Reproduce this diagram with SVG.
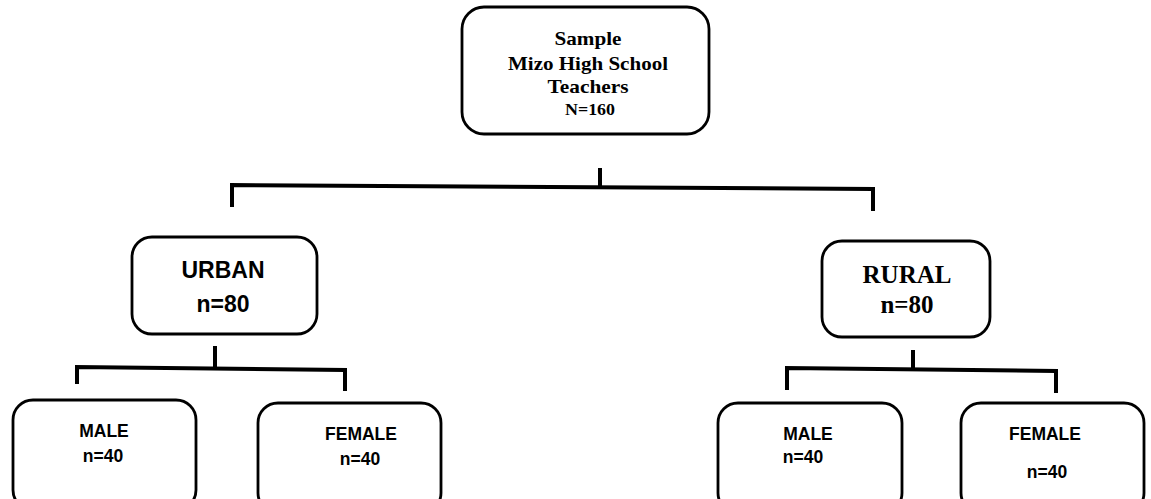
<svg xmlns="http://www.w3.org/2000/svg" width="1151" height="499" viewBox="0 0 1151 499">
<style>
.box{fill:#fff;stroke:#000;stroke-width:2.8}
.con{fill:none;stroke:#000;stroke-width:4;stroke-linecap:butt;stroke-linejoin:miter}
.serif{font-family:"Liberation Serif","Times New Roman",serif;font-weight:bold;fill:#000;text-anchor:middle}
.sans{font-family:"Liberation Sans",Arial,sans-serif;font-weight:bold;fill:#000;text-anchor:middle}
.sm{font-size:17.5px}
</style>
<rect width="1151" height="499" fill="#fff"/>
<g id="connectors">
<path class="con" d="M600,168 V186"/>
<path class="con" d="M232,207 V185 L873,189 V211"/>
<path class="con" d="M215,346 V368"/>
<path class="con" d="M77,384 V367 L345,370 V391"/>
<path class="con" d="M913,350 V369"/>
<path class="con" d="M787,390 V368 L1056,371 V393"/>
</g>
<g id="sample">
<rect class="box" x="462" y="7" width="247" height="127" rx="22"/>
<text class="serif" x="588" y="45" font-size="19" textLength="67" lengthAdjust="spacingAndGlyphs">Sample</text>
<text class="serif" x="588" y="70" font-size="19" textLength="160" lengthAdjust="spacingAndGlyphs">Mizo High School</text>
<text class="serif" x="588" y="93" font-size="19" textLength="81" lengthAdjust="spacingAndGlyphs">Teachers</text>
<text class="serif" x="590" y="115" font-size="17" textLength="50" lengthAdjust="spacingAndGlyphs">N=160</text>
</g>
<g id="urban">
<rect class="box" x="132" y="237" width="185" height="97" rx="20"/>
<text class="sans" x="223" y="278" font-size="23">URBAN</text>
<text class="sans" x="223" y="312" font-size="23">n=80</text>
</g>
<g id="rural">
<rect class="box" x="822" y="241" width="168" height="96" rx="20"/>
<text class="serif" x="907" y="283" font-size="25">RURAL</text>
<text class="serif" x="907" y="313" font-size="25">n=80</text>
</g>
<g id="urban-male">
<rect class="box" x="13" y="400" width="183" height="110" rx="20"/>
<text class="sans sm" x="104" y="437">MALE</text>
<text class="sans sm" x="103" y="462">n=40</text>
</g>
<g id="urban-female">
<rect class="box" x="258" y="403" width="183" height="110" rx="20"/>
<text class="sans sm" x="361" y="440">FEMALE</text>
<text class="sans sm" x="360" y="465">n=40</text>
</g>
<g id="rural-male">
<rect class="box" x="718" y="403" width="184" height="110" rx="20"/>
<text class="sans sm" x="808" y="440">MALE</text>
<text class="sans sm" x="803" y="463">n=40</text>
</g>
<g id="rural-female">
<rect class="box" x="961" y="403" width="183" height="110" rx="20"/>
<text class="sans sm" x="1045" y="440">FEMALE</text>
<text class="sans sm" x="1047" y="478">n=40</text>
</g>
</svg>
